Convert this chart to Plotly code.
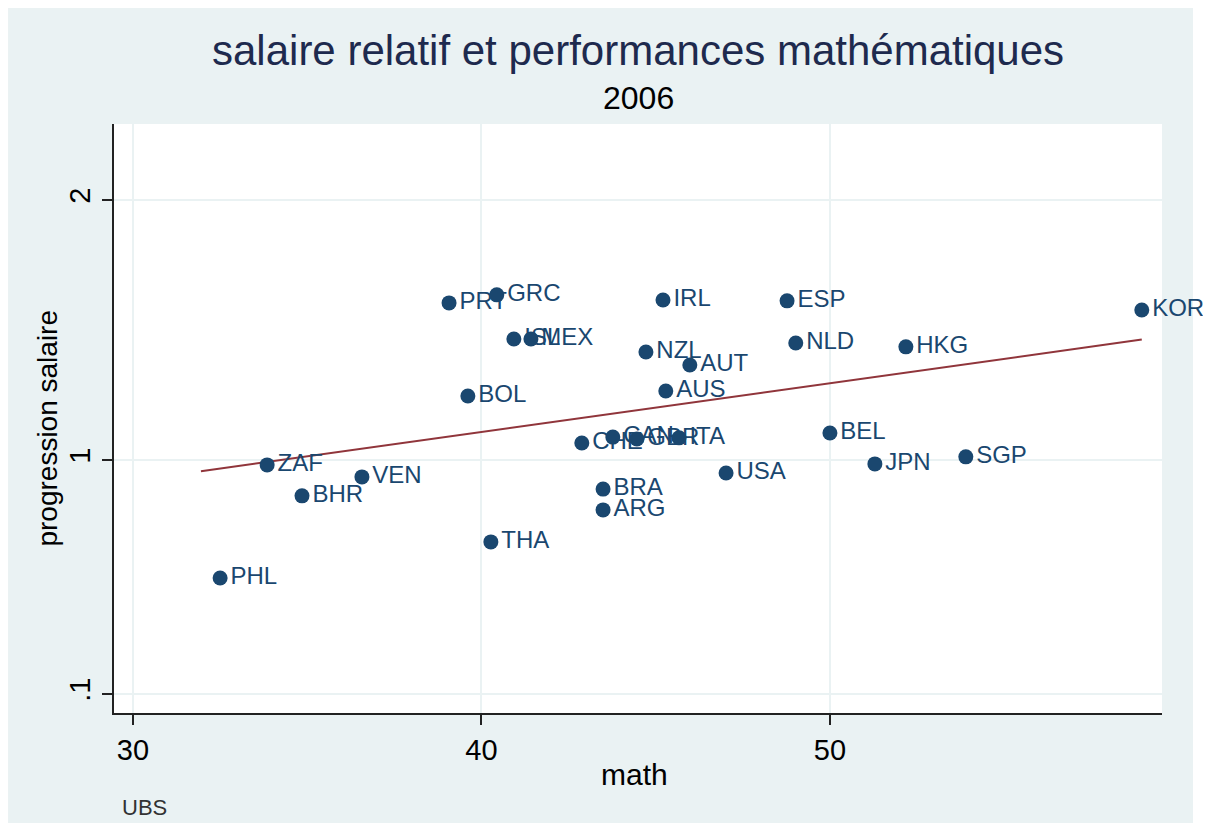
import plotly.graph_objects as go

countries = ["PRT", "GRC", "IRL", "ESP", "KOR", "ISL", "MEX", "NZL", "AUT", "NLD",
             "HKG", "BOL", "AUS", "CHE", "CAN", "GBR", "ITA", "BEL", "ZAF", "VEN",
             "USA", "JPN", "SGP", "BHR", "BRA", "ARG", "THA", "PHL"]
math = [39.07, 40.44, 45.21, 48.77, 58.95, 40.93, 41.42, 44.72, 45.98, 49.02,
        52.18, 39.61, 45.29, 42.88, 43.77, 44.46, 45.67, 50.00, 33.85, 36.57,
        47.02, 51.29, 53.90, 34.85, 43.49, 43.49, 40.27, 32.50]
salaire = [1.604, 1.635, 1.615, 1.612, 1.577, 1.465, 1.465, 1.415, 1.365, 1.450,
           1.435, 1.246, 1.265, 1.065, 1.088, 1.081, 1.085, 1.104, 0.981, 0.935,
           0.950, 0.985, 1.012, 0.862, 0.888, 0.808, 0.685, 0.546]
fit_x = [31.95, 58.95]
fit_y = [0.957, 1.463]

x_ticks = [30, 40, 50]
y_ticks = [0.1, 1, 2]
y_tick_labels = [".1", "1", "2"]

navy = "#1a476f"
grid = "#eaf2f3"
font = "Liberation Sans, Arial, sans-serif"

fig = go.Figure()
fig.add_trace(go.Scatter(
    x=fit_x, y=fit_y, mode="lines",
    line=dict(color="#90353b", width=2), hoverinfo="skip", showlegend=False))
fig.add_trace(go.Scatter(
    x=math, y=salaire, mode="markers+text", text=countries,
    textposition="middle right",
    textfont=dict(family=font, size=24, color=navy),
    marker=dict(color=navy, size=15), showlegend=False, cliponaxis=False))

fig.update_layout(
    width=1203, height=815,
    margin=dict(l=106, r=49, t=116, b=110),
    paper_bgcolor="white", plot_bgcolor="white",
    font=dict(family=font, color="black"),
    shapes=[
        dict(type="rect", xref="paper", yref="paper", x0=-0.1011, x1=1.0296,
             y0=-0.25, y1=1.1986, fillcolor=grid, line=dict(width=0), layer="below"),
        dict(type="rect", xref="x domain", yref="y domain", x0=0, x1=1, y0=0, y1=1,
             fillcolor="white", line=dict(width=0), layer="below"),
    ],
    annotations=[
        dict(text="salaire relatif et performances mathématiques", xref="paper", yref="paper",
             x=0.5, y=1.1256, xanchor="center", yanchor="middle", showarrow=False,
             font=dict(family=font, size=42, color="#1e2a4e")),
        dict(text="2006", xref="paper", yref="paper",
             x=0.5, y=1.044, xanchor="center", yanchor="middle", showarrow=False,
             font=dict(family=font, size=32, color="black")),
        dict(text="math", xref="paper", yref="paper",
             x=0.497, y=-0.105, xanchor="center", yanchor="middle", showarrow=False,
             font=dict(family=font, size=30, color="black")),
        dict(text="progression salaire", xref="paper", yref="paper",
             x=-0.0639, y=0.483, xanchor="center", yanchor="middle", showarrow=False,
             textangle=-90, font=dict(family=font, size=28, color="black")),
        dict(text="UBS", xref="paper", yref="paper",
             x=0.0057, y=-0.161, xanchor="left", yanchor="middle", showarrow=False,
             font=dict(family=font, size=22, color="#333333")),
    ],
)
fig.update_xaxes(
    range=[29.455, 59.53], tickvals=x_ticks, ticks="outside", ticklen=10,
    tickwidth=1.5, tickcolor="#222222", showline=True, linecolor="#222222",
    linewidth=2, showgrid=True, gridcolor=grid, gridwidth=2, zeroline=False,
    tickfont=dict(family=font, size=29, color="black"))
fig.update_yaxes(
    range=[0.027, 2.292], tickvals=y_ticks, ticktext=y_tick_labels, ticks="outside",
    ticklen=10, tickwidth=1.5, tickcolor="#222222", showline=True, linecolor="#222222",
    linewidth=2, showgrid=True, gridcolor=grid, gridwidth=2, zeroline=False,
    tickangle=-90, tickfont=dict(family=font, size=29, color="black"))

fig.write_html("out.html")
